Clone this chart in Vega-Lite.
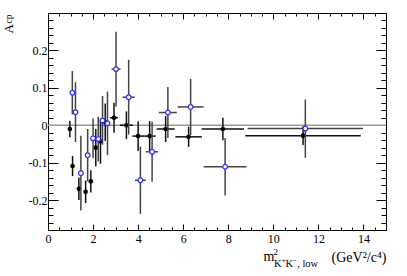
{
  "$schema": "https://vega.github.io/schema/vega-lite/v6.json",
  "width": 338,
  "height": 217,
  "autosize": {"type": "none"},
  "padding": {"left": 48, "top": 13, "right": 21, "bottom": 46},
  "config": {
    "view": {"stroke": "black", "strokeWidth": 1},
    "axis": {
      "labelFont": "Liberation Serif",
      "titleFont": "Liberation Serif",
      "labelColor": "black",
      "titleColor": "black",
      "tickColor": "black",
      "tickWidth": 1,
      "grid": false,
      "domain": false,
      "titleFontWeight": "normal",
      "labelOverlap": false,
      "labelFlush": false
    }
  },
  "datasets": {
    "black": [
      {"x": 0.97, "y": -0.010, "xlo": 0.92, "xhi": 1.02, "ylo": -0.032, "yhi": 0.012},
      {"x": 1.09, "y": -0.109, "xlo": 1.04, "xhi": 1.14, "ylo": -0.136, "yhi": -0.082},
      {"x": 1.37, "y": -0.170, "xlo": 1.32, "xhi": 1.42, "ylo": -0.200, "yhi": -0.140},
      {"x": 1.67, "y": -0.178, "xlo": 1.62, "xhi": 1.72, "ylo": -0.208, "yhi": -0.148},
      {"x": 1.90, "y": -0.150, "xlo": 1.85, "xhi": 1.95, "ylo": -0.180, "yhi": -0.120},
      {"x": 2.12, "y": -0.060, "xlo": 2.07, "xhi": 2.17, "ylo": -0.110, "yhi": -0.010},
      {"x": 2.33, "y": -0.043, "xlo": 2.28, "xhi": 2.38, "ylo": -0.103, "yhi": 0.017},
      {"x": 2.54, "y": 0.008, "xlo": 2.48, "xhi": 2.60, "ylo": -0.042, "yhi": 0.058},
      {"x": 2.93, "y": 0.020, "xlo": 2.75, "xhi": 3.11, "ylo": -0.020, "yhi": 0.060},
      {"x": 3.48, "y": 0.000, "xlo": 3.19, "xhi": 3.77, "ylo": -0.037, "yhi": 0.037},
      {"x": 4.00, "y": -0.029, "xlo": 3.74, "xhi": 4.26, "ylo": -0.069, "yhi": 0.011},
      {"x": 4.51, "y": -0.029, "xlo": 4.24, "xhi": 4.78, "ylo": -0.069, "yhi": 0.011},
      {"x": 5.22, "y": -0.010, "xlo": 4.82, "xhi": 5.62, "ylo": -0.045, "yhi": 0.025},
      {"x": 6.24, "y": -0.031, "xlo": 5.65, "xhi": 6.83, "ylo": -0.058, "yhi": -0.004},
      {"x": 7.76, "y": -0.010, "xlo": 6.82, "xhi": 8.70, "ylo": -0.040, "yhi": 0.020},
      {"x": 11.32, "y": -0.028, "xlo": 8.76, "xhi": 13.88, "ylo": -0.053, "yhi": -0.003}
    ],
    "open": [
      {"x": 1.08, "y": 0.087, "xlo": 1.05, "xhi": 1.11, "ylo": 0.029, "yhi": 0.145},
      {"x": 1.22, "y": 0.035, "xlo": 1.19, "xhi": 1.25, "ylo": -0.045, "yhi": 0.115},
      {"x": 1.46, "y": -0.128, "xlo": 1.43, "xhi": 1.49, "ylo": -0.228, "yhi": -0.028},
      {"x": 1.76, "y": -0.080, "xlo": 1.73, "xhi": 1.79, "ylo": -0.150, "yhi": -0.010},
      {"x": 2.00, "y": -0.035, "xlo": 1.97, "xhi": 2.03, "ylo": -0.088, "yhi": 0.018},
      {"x": 2.23, "y": -0.037, "xlo": 2.20, "xhi": 2.26, "ylo": -0.097, "yhi": 0.023},
      {"x": 2.42, "y": 0.013, "xlo": 2.38, "xhi": 2.46, "ylo": -0.052, "yhi": 0.078},
      {"x": 2.64, "y": 0.005, "xlo": 2.60, "xhi": 2.68, "ylo": -0.080, "yhi": 0.090},
      {"x": 3.02, "y": 0.150, "xlo": 2.82, "xhi": 3.22, "ylo": 0.050, "yhi": 0.250},
      {"x": 3.58, "y": 0.075, "xlo": 3.31, "xhi": 3.85, "ylo": -0.025, "yhi": 0.175},
      {"x": 4.10, "y": -0.147, "xlo": 3.86, "xhi": 4.34, "ylo": -0.237, "yhi": -0.057},
      {"x": 4.62, "y": -0.071, "xlo": 4.35, "xhi": 4.89, "ylo": -0.151, "yhi": 0.009},
      {"x": 5.32, "y": 0.034, "xlo": 4.92, "xhi": 5.72, "ylo": -0.034, "yhi": 0.102},
      {"x": 6.33, "y": 0.049, "xlo": 5.75, "xhi": 6.91, "ylo": -0.026, "yhi": 0.124},
      {"x": 7.86, "y": -0.111, "xlo": 6.91, "xhi": 8.81, "ylo": -0.188, "yhi": -0.034},
      {"x": 11.42, "y": -0.009, "xlo": 8.86, "xhi": 13.98, "ylo": -0.087, "yhi": 0.069}
    ]
  },
  "resolve": {"axis": {"x": "independent", "y": "independent"}},
  "layer": [
    {
      "data": {"values": [{}]},
      "mark": {"type": "rule", "color": "#999999", "strokeWidth": 1.5},
      "encoding": {
        "y": {
          "datum": 0, "type": "quantitative",
          "scale": {"domain": [-0.28, 0.3], "nice": false, "zero": false},
          "axis": {
            "orient": "left", "values": [-0.2, -0.1, 0, 0.1, 0.2],
            "tickSize": -10, "labelPadding": 11, "labelFontSize": 12,
            "labelExpr": "datum.value == 0 ? '0' : (datum.value < 0 ? '-' + format(-datum.value, '.1f') : format(datum.value, '.1f'))",
            "title": "A", "titleFontSize": 13, "titleAngle": 270, "titleAlign": "left",
            "titleBaseline": "alphabetic", "titleX": -36, "titleY": 20
          }
        }
      }
    },
    {
      "data": {"name": "black"},
      "mark": {"type": "rule", "color": "#111111", "strokeWidth": 1.5},
      "encoding": {
        "x": {
          "field": "xlo", "type": "quantitative",
          "scale": {"domain": [0, 15], "nice": false, "zero": false},
          "axis": {
            "orient": "bottom", "values": [0, 2, 4, 6, 8, 10, 12, 14],
            "tickSize": -6, "labelPadding": 9, "labelFontSize": 12,
            "title": "(GeV²/c⁴)", "titleFontSize": 14, "titleAngle": 0, "titleAlign": "right",
            "titleBaseline": "alphabetic", "titleX": 338, "titleY": 31
          }
        },
        "x2": {"field": "xhi"},
        "y": {
          "field": "y", "type": "quantitative",
          "scale": {"domain": [-0.28, 0.3], "nice": false, "zero": false},
          "axis": {
            "orient": "left",
            "values": [-0.28, -0.26, -0.24, -0.22, -0.2, -0.18, -0.16, -0.14, -0.12, -0.1, -0.08, -0.06, -0.04, -0.02, 0, 0.02, 0.04, 0.06, 0.08, 0.1, 0.12, 0.14, 0.16, 0.18, 0.2, 0.22, 0.24, 0.26, 0.28],
            "tickSize": -5, "labels": false,
            "title": "cp", "titleFontSize": 9.5, "titleAngle": 270, "titleAlign": "left",
            "titleBaseline": "alphabetic", "titleX": -37, "titleY": 10
          }
        }
      }
    },
    {
      "data": {"name": "black"},
      "mark": {"type": "rule", "color": "#111111", "strokeWidth": 1.5},
      "encoding": {
        "x": {
          "field": "x", "type": "quantitative",
          "scale": {"domain": [0, 15], "nice": false, "zero": false},
          "axis": {
            "orient": "bottom",
            "values": [0, 0.5, 1, 1.5, 2, 2.5, 3, 3.5, 4, 4.5, 5, 5.5, 6, 6.5, 7, 7.5, 8, 8.5, 9, 9.5, 10, 10.5, 11, 11.5, 12, 12.5, 13, 13.5, 14, 14.5],
            "tickSize": -3, "labels": false,
            "title": "m", "titleFontSize": 14, "titleAngle": 0, "titleAlign": "left",
            "titleBaseline": "alphabetic", "titleX": 215, "titleY": 30
          }
        },
        "y": {
          "field": "ylo", "type": "quantitative",
          "scale": {"domain": [-0.28, 0.3], "nice": false, "zero": false},
          "axis": {
            "orient": "right", "values": [-0.2, -0.1, 0, 0.1, 0.2],
            "tickSize": -10, "labels": false, "title": null
          }
        },
        "y2": {"field": "yhi"}
      }
    },
    {
      "data": {"name": "black"},
      "mark": {"type": "circle", "color": "black", "size": 22, "opacity": 1},
      "encoding": {
        "x": {
          "field": "x", "type": "quantitative",
          "scale": {"domain": [0, 15], "nice": false, "zero": false},
          "axis": {
            "orient": "top", "values": [0, 2, 4, 6, 8, 10, 12, 14],
            "tickSize": -6, "labels": false,
            "title": "2", "titleFontSize": 9, "titleAngle": 0, "titleAlign": "left",
            "titleBaseline": "alphabetic", "titleX": 225, "titleY": 241.5
          }
        },
        "y": {
          "field": "y", "type": "quantitative",
          "scale": {"domain": [-0.28, 0.3], "nice": false, "zero": false},
          "axis": {
            "orient": "right",
            "values": [-0.28, -0.26, -0.24, -0.22, -0.2, -0.18, -0.16, -0.14, -0.12, -0.1, -0.08, -0.06, -0.04, -0.02, 0, 0.02, 0.04, 0.06, 0.08, 0.1, 0.12, 0.14, 0.16, 0.18, 0.2, 0.22, 0.24, 0.26, 0.28],
            "tickSize": -5, "labels": false, "title": null
          }
        }
      }
    },
    {
      "data": {"name": "open"},
      "mark": {"type": "rule", "color": "#444444", "strokeWidth": 1.5},
      "encoding": {
        "x": {
          "field": "xlo", "type": "quantitative",
          "scale": {"domain": [0, 15], "nice": false, "zero": false},
          "axis": {
            "orient": "top",
            "values": [0, 0.5, 1, 1.5, 2, 2.5, 3, 3.5, 4, 4.5, 5, 5.5, 6, 6.5, 7, 7.5, 8, 8.5, 9, 9.5, 10, 10.5, 11, 11.5, 12, 12.5, 13, 13.5, 14, 14.5],
            "tickSize": -3, "labels": false,
            "title": "K⁺K⁻, low", "titleFontSize": 10.5, "titleAngle": 0, "titleAlign": "left",
            "titleBaseline": "alphabetic", "titleX": 225.5, "titleY": 253
          }
        },
        "x2": {"field": "xhi"},
        "y": {
          "field": "y", "type": "quantitative",
          "scale": {"domain": [-0.28, 0.3], "nice": false, "zero": false},
          "axis": null
        }
      }
    },
    {
      "data": {"name": "open"},
      "mark": {"type": "rule", "color": "#444444", "strokeWidth": 1.5},
      "encoding": {
        "x": {
          "field": "x", "type": "quantitative",
          "scale": {"domain": [0, 15], "nice": false, "zero": false},
          "axis": null
        },
        "y": {
          "field": "ylo", "type": "quantitative",
          "scale": {"domain": [-0.28, 0.3], "nice": false, "zero": false},
          "axis": null
        },
        "y2": {"field": "yhi"}
      }
    },
    {
      "data": {"name": "open"},
      "mark": {"type": "point", "shape": "circle", "filled": true, "fill": "white", "stroke": "#2a2aff", "strokeWidth": 1.2, "size": 22, "opacity": 1},
      "encoding": {
        "x": {
          "field": "x", "type": "quantitative",
          "scale": {"domain": [0, 15], "nice": false, "zero": false},
          "axis": null
        },
        "y": {
          "field": "y", "type": "quantitative",
          "scale": {"domain": [-0.28, 0.3], "nice": false, "zero": false},
          "axis": null
        }
      }
    }
  ]
}
